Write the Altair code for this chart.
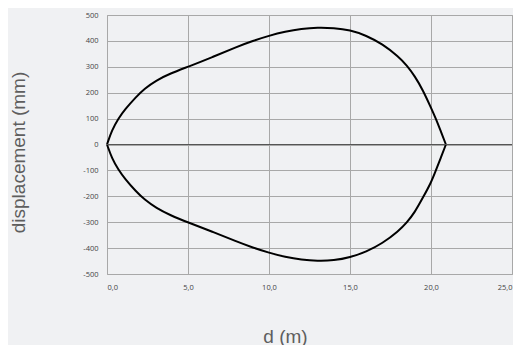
import altair as alt
import pandas as pd

# Upper branch (d in m, displacement in mm)
upper_d = [0, 0.3, 0.7, 1.1, 1.8, 2.3, 3.05, 3.9, 5.0, 6.5, 8.0, 9.0, 10.0, 11.0, 12.0, 13.0, 14.0, 15.0, 16.0, 17.0, 18.0, 18.5, 19.0, 19.5, 20.0, 20.3, 20.6, 20.92]
upper_v = [0, 55, 100, 135, 184, 215, 248, 274, 300, 337, 377, 400, 420, 436, 447, 452, 450, 442, 421, 388, 339, 306, 264, 210, 142, 100, 52, 0]
# Lower branch
lower_d = [0, 0.3, 0.7, 1.1, 1.8, 2.3, 3.05, 3.9, 5.0, 6.5, 8.0, 9.0, 10.0, 11.0, 12.0, 13.0, 14.0, 15.0, 16.0, 17.0, 18.0, 18.5, 19.0, 19.5, 20.0, 20.3, 20.6, 20.92]
lower_v = [0, -53, -97, -132, -182, -212, -246, -273, -301, -336, -375, -398, -418, -434, -445, -450, -448, -436, -414, -382, -334, -302, -262, -205, -148, -100, -52, 0]

x_ticks = [0, 5, 10, 15, 20, 25]
y_ticks = [-500, -400, -300, -200, -100, 0, 100, 200, 300, 400, 500]
zero_line = [0]

df = pd.DataFrame({
    "d": upper_d + lower_d,
    "v": upper_v + lower_v,
    "branch": ["upper"] * len(upper_d) + ["lower"] * len(lower_d),
})
zdf = pd.DataFrame({"v": zero_line})

W, H = 405, 259
BG = "#f0f1f3"
GRID = "#a8a8a8"

x_scale = alt.Scale(domain=[0, 25], nice=False, zero=False)
y_scale = alt.Scale(domain=[-500, 500], nice=False)

x_axis = alt.Axis(
    values=x_ticks,
    labelExpr="replace(format(datum.value, '.1f'), '.', ',')",
    title="d (m)",
    grid=True, gridColor=GRID, gridWidth=1,
    ticks=False, domain=False, labelOverlap=False,
    labelFont="Open Sans", labelFontSize=7.5, labelColor="#444444", labelPadding=9,
    titleFont="Liberation Sans", titleFontSize=19, titleFontWeight="normal", titleColor="#5e5e5e",
    titleX=178, titleY=62, titleBaseline="middle", titleAlign="center",
)
y_axis = alt.Axis(
    values=y_ticks, tickCount=11,
    labelExpr="datum.value + ''",
    title="displacement (mm)",
    grid=True, gridColor=GRID, gridWidth=1,
    ticks=False, domain=False, labelOverlap=False,
    labelFont="Open Sans", labelFontSize=7.5, labelColor="#444444", labelPadding=9,
    titleFont="Liberation Sans", titleFontSize=19, titleFontWeight="normal", titleColor="#5e5e5e",
    titleX=-89, titleY=137, titleBaseline="middle", titleAlign="center", titleAngle=270,
)

curve = alt.Chart(df).mark_line(color="black", strokeWidth=2, interpolate="basis").encode(
    x=alt.X("d:Q", scale=x_scale, axis=x_axis),
    y=alt.Y("v:Q", scale=y_scale, axis=y_axis),
    detail="branch:N",
)

zero = alt.Chart(zdf).mark_rule(color="#555555", strokeWidth=1).encode(
    y=alt.Y("v:Q", scale=y_scale, axis=y_axis),
)

chart = alt.layer(curve, zero).properties(
    width=W, height=H,
    padding={"left": 99, "top": 7, "right": 1, "bottom": 71},
    autosize=alt.AutoSizeParams(type="none"),
    background=BG,
).configure_view(stroke=GRID, strokeWidth=1, fill=BG)

chart.save("out.html", embed_options={"renderer": "svg", "actions": False})
